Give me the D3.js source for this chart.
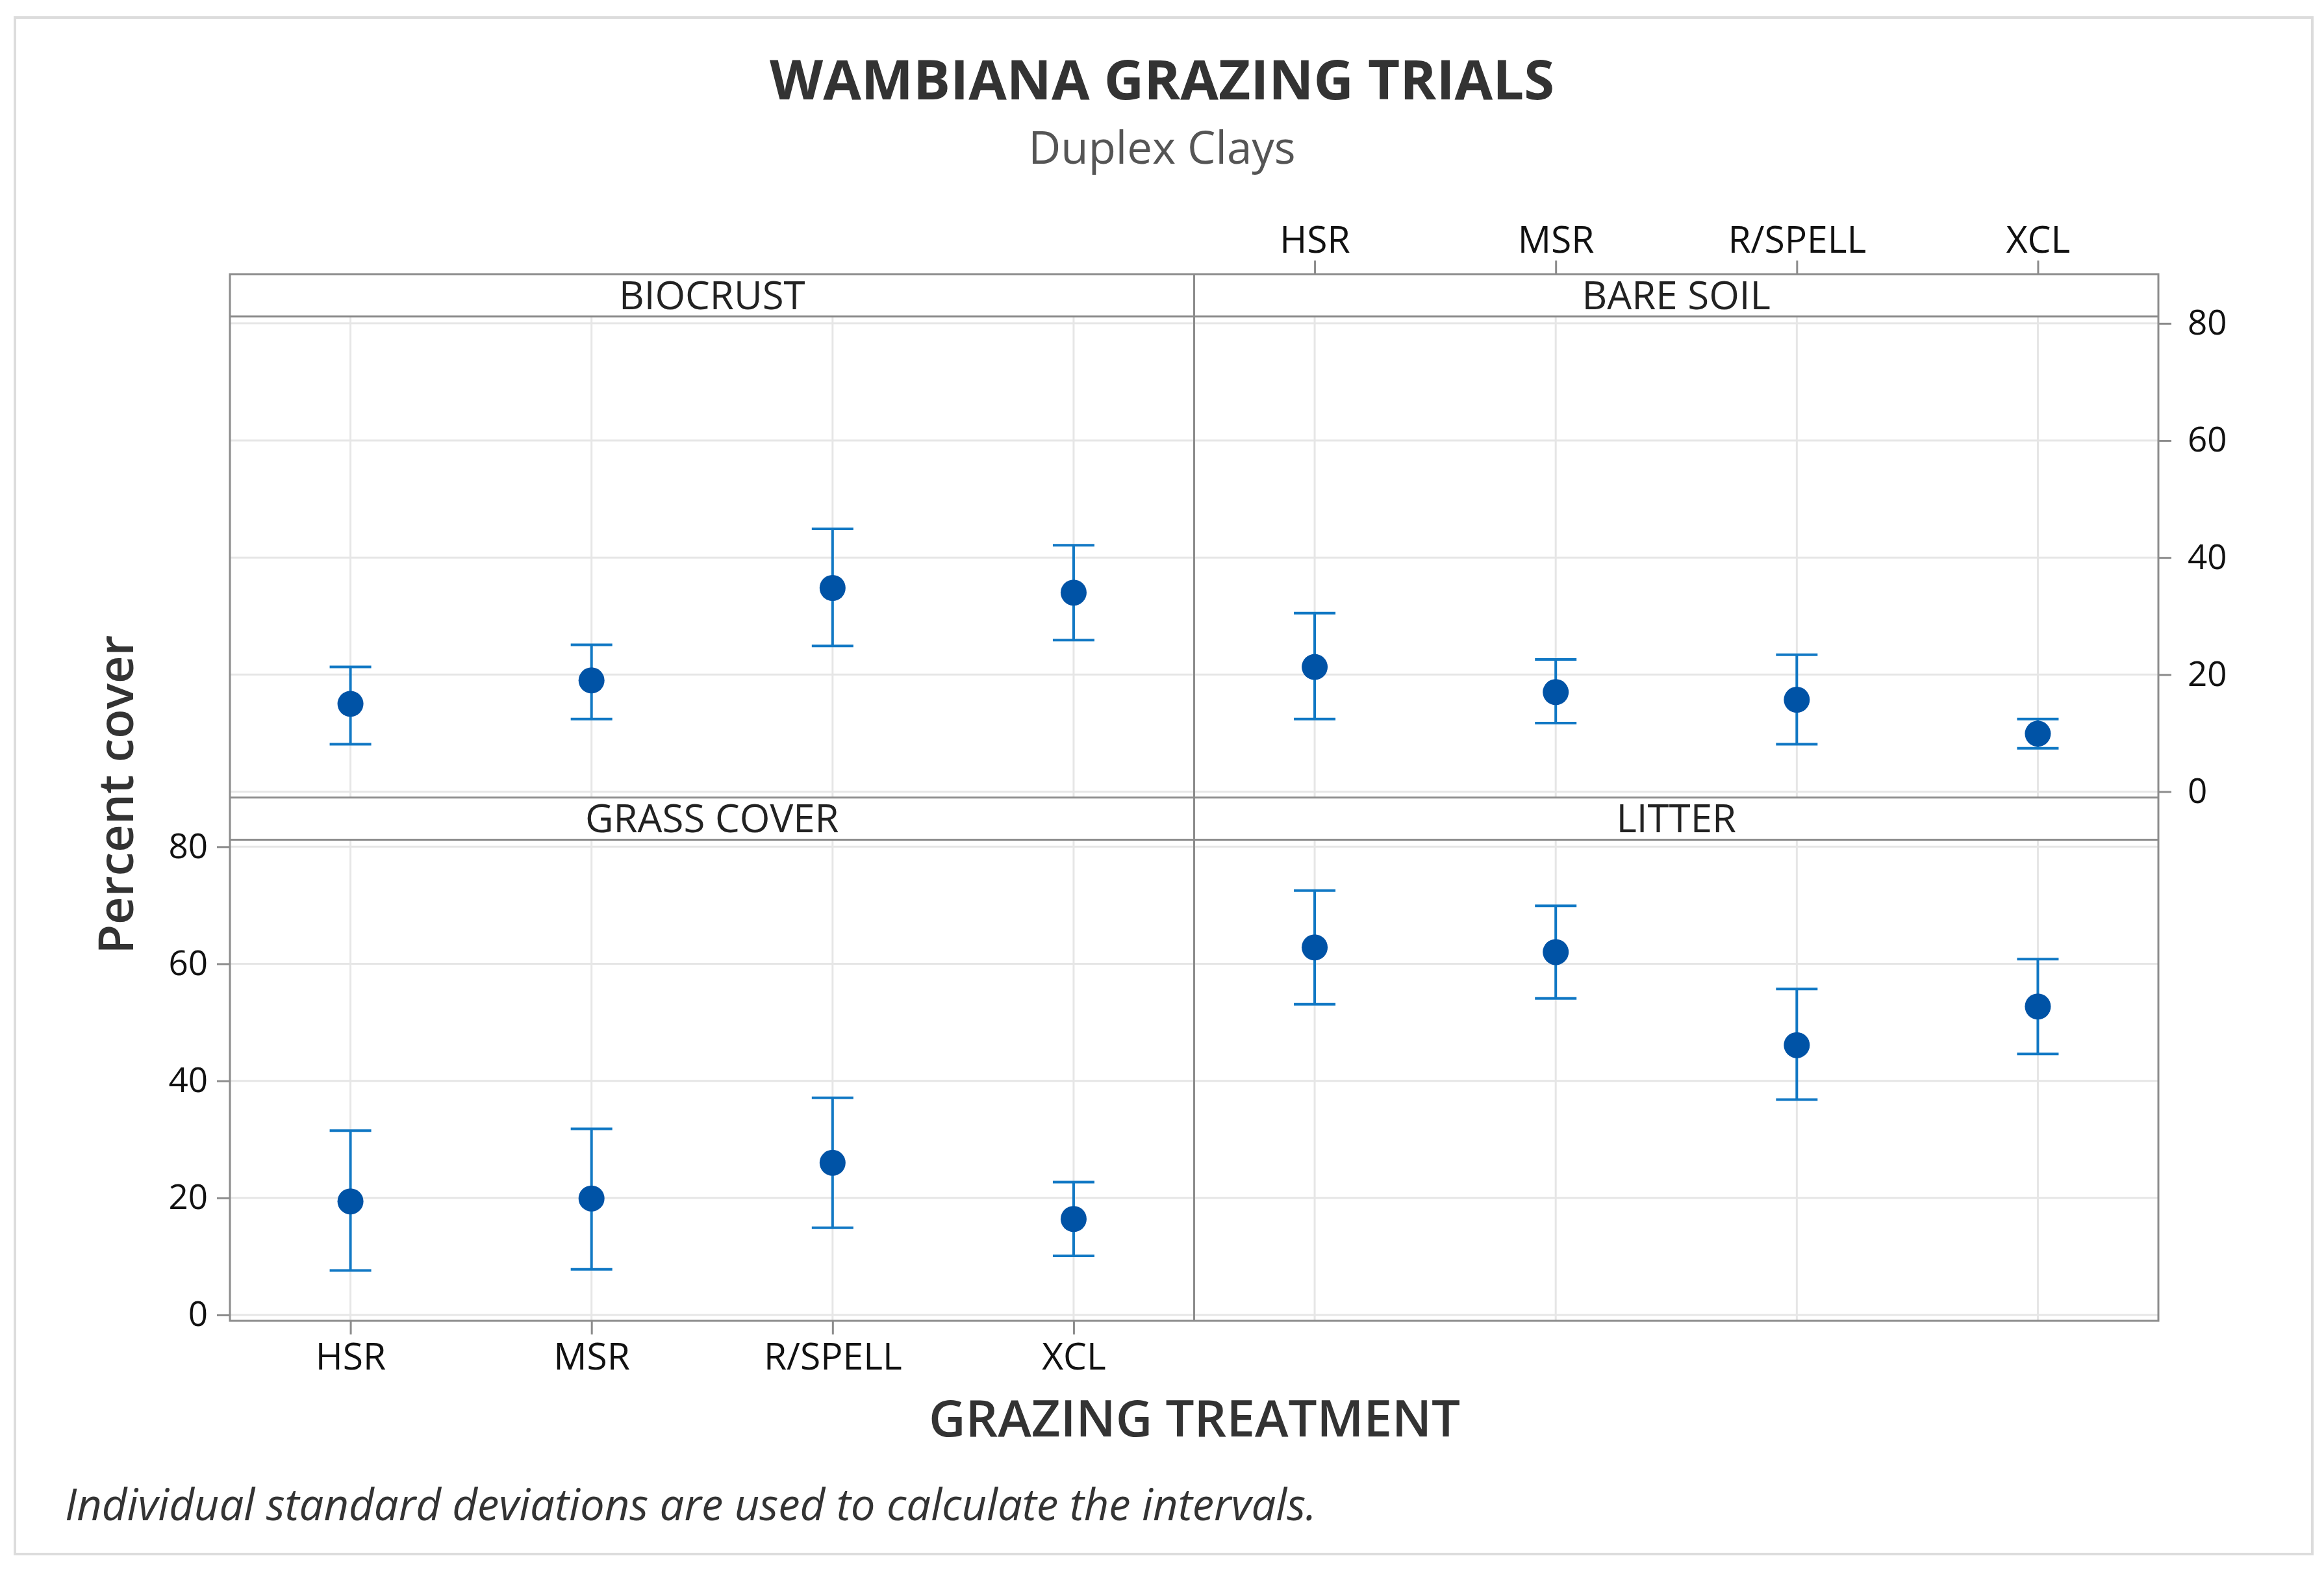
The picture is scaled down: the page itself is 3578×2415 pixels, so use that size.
<!doctype html>
<html>
  <head>
    <script src="https://cdnjs.cloudflare.com/ajax/libs/d3/7.8.5/d3.min.js"></script>
    <style>
      body { margin: 0; background: #fff; }
      text { font-family: "Open Sans", "Noto Sans", sans-serif; }
      .tick text { font-size: 53px; fill: #111; }
      .xaxis .tick text { font-size: 57px; }
      .tick line { stroke: #8c8c8c; stroke-width: 3px; }
      .strip { font-size: 60px; fill: #222; text-anchor: middle; }
      .grid { stroke: #e6e6e6; stroke-width: 3px; }
      .frame { fill: none; stroke: #8c8c8c; stroke-width: 3px; }
      .err { stroke: #1178c4; stroke-width: 4px; fill: none; }
      .dot { fill: #0053a6; }
    </style>
  </head>
  <body>
    <svg id="chart" width="3578" height="2415"></svg>
    <script>
      // treatments and panels
      const categories = ["HSR", "MSR", "R/SPELL", "XCL"];
      const panelNames = ["BIOCRUST", "BARE SOIL", "GRASS COVER", "LITTER"];
      const yTicks = [0, 20, 40, 60, 80];

      // means and interval ends
      const biocrustMean = [15.0, 19.0, 34.8, 34.0];
      const biocrustLo   = [8.1, 12.4, 24.9, 25.9];
      const biocrustHi   = [21.3, 25.1, 44.9, 42.1];

      const bareMean = [21.3, 17.0, 15.7, 9.9];
      const bareLo   = [12.4, 11.7, 8.1, 7.4];
      const bareHi   = [30.5, 22.6, 23.4, 12.4];

      const grassMean = [19.4, 19.9, 26.0, 16.4];
      const grassLo   = [7.6, 7.8, 14.9, 10.1];
      const grassHi   = [31.5, 31.8, 37.1, 22.7];

      const litterMean = [62.8, 62.0, 46.1, 52.7];
      const litterLo   = [53.1, 54.1, 36.8, 44.6];
      const litterHi   = [72.5, 69.9, 55.7, 60.8];

      const panels = [
        { name: panelNames[0], mean: biocrustMean, lo: biocrustLo, hi: biocrustHi, col: 0, row: 0 },
        { name: panelNames[1], mean: bareMean, lo: bareLo, hi: bareHi, col: 1, row: 0 },
        { name: panelNames[2], mean: grassMean, lo: grassLo, hi: grassHi, col: 0, row: 1 },
        { name: panelNames[3], mean: litterMean, lo: litterLo, hi: litterHi, col: 1, row: 1 }
      ];

      const svg = d3.select("#chart");

      // outer light border
      svg.append("rect")
        .attr("x", 23).attr("y", 27).attr("width", 3537).attr("height", 2365)
        .attr("fill", "#fff").attr("stroke", "#dcdcdc").attr("stroke-width", 4);

      const fLeft = 354, fRight = 3323, fTop = 422;
      const mid = (fLeft + fRight) / 2;
      const stripH = 65, dataH = 740.5, rowH = stripH + dataH;
      const colX = [fLeft, mid];
      const panelW = mid - fLeft;

      const rowY = r => fTop + r * rowH;
      const yScales = [0, 1].map(r =>
        d3.scaleLinear().domain([-1.0, 81.2]).range([rowY(r) + rowH, rowY(r) + stripH]));
      const xScales = [0, 1].map(c =>
        d3.scalePoint().domain(categories).range([colX[c], colX[c] + panelW]).padding(0.5));

      // grid
      panels.forEach(p => {
        const x = xScales[p.col], y = yScales[p.row];
        const g = svg.append("g");
        g.selectAll("line.h").data(yTicks).enter().append("line")
          .attr("class", "grid")
          .attr("x1", colX[p.col]).attr("x2", colX[p.col] + panelW)
          .attr("y1", d => y(d)).attr("y2", d => y(d));
        g.selectAll("line.v").data(categories).enter().append("line")
          .attr("class", "grid")
          .attr("x1", d => x(d)).attr("x2", d => x(d))
          .attr("y1", rowY(p.row) + stripH).attr("y2", rowY(p.row) + rowH);
      });

      // frame and strips
      svg.append("rect").attr("class", "frame")
        .attr("x", fLeft).attr("y", fTop).attr("width", fRight - fLeft).attr("height", 2 * rowH);
      [0, 1].forEach(r => {
        svg.append("line").attr("class", "frame")
          .attr("x1", fLeft).attr("x2", fRight)
          .attr("y1", rowY(r) + stripH).attr("y2", rowY(r) + stripH);
      });
      svg.append("line").attr("class", "frame")
        .attr("x1", fLeft).attr("x2", fRight).attr("y1", rowY(1)).attr("y2", rowY(1));
      svg.append("line").attr("class", "frame")
        .attr("x1", mid).attr("x2", mid).attr("y1", fTop).attr("y2", fTop + 2 * rowH);

      panels.forEach(p => {
        svg.append("text").attr("class", "strip")
          .attr("x", colX[p.col] + panelW / 2)
          .attr("y", rowY(p.row) + stripH / 2 + 21)
          .text(p.name);
      });

      // axes
      const styleAxis = g => g.call(s => s.select(".domain").remove());
      svg.append("g").attr("transform", `translate(${fRight},0)`)
        .call(d3.axisRight(yScales[0]).tickValues(yTicks).tickSize(20).tickPadding(25))
        .call(styleAxis);
      svg.append("g").attr("transform", `translate(${fLeft},0)`)
        .call(d3.axisLeft(yScales[1]).tickValues(yTicks).tickSize(20).tickPadding(14))
        .call(styleAxis);
      svg.append("g").attr("class", "xaxis").attr("transform", `translate(0,${fTop})`)
        .call(d3.axisTop(xScales[1]).tickSize(21).tickPadding(12))
        .call(styleAxis);
      svg.append("g").attr("class", "xaxis").attr("transform", `translate(0,${fTop + 2 * rowH})`)
        .call(d3.axisBottom(xScales[0]).tickSize(21).tickPadding(14))
        .call(styleAxis);
      svg.selectAll(".tick text").attr("font-family", null);

      // intervals and means
      panels.forEach(p => {
        const x = xScales[p.col], y = yScales[p.row];
        const rows = categories.map((c, i) => ({ c, m: p.mean[i], lo: p.lo[i], hi: p.hi[i] }));
        const g = svg.append("g");
        g.selectAll("line.stem").data(rows).enter().append("line").attr("class", "err")
          .attr("x1", d => x(d.c)).attr("x2", d => x(d.c))
          .attr("y1", d => y(d.lo)).attr("y2", d => y(d.hi));
        ["lo", "hi"].forEach(k => {
          g.selectAll("line.cap" + k).data(rows).enter().append("line").attr("class", "err")
            .attr("x1", d => x(d.c) - 32).attr("x2", d => x(d.c) + 32)
            .attr("y1", d => y(d[k])).attr("y2", d => y(d[k]));
        });
        g.selectAll("circle").data(rows).enter().append("circle").attr("class", "dot")
          .attr("cx", d => x(d.c)).attr("cy", d => y(d.m)).attr("r", 20);
      });

      // titles
      svg.append("text").attr("x", 1789).attr("y", 153)
        .attr("text-anchor", "middle").attr("font-size", 85).attr("font-weight", 700)
        .attr("fill", "#333").text("WAMBIANA GRAZING TRIALS");
      svg.append("text").attr("x", 1789).attr("y", 252)
        .attr("text-anchor", "middle").attr("font-size", 69)
        .attr("fill", "#555").text("Duplex Clays");
      svg.append("text").attr("x", 1839).attr("y", 2211)
        .attr("text-anchor", "middle").attr("font-size", 78).attr("font-weight", 600)
        .attr("fill", "#333").text("GRAZING TREATMENT");
      svg.append("text")
        .attr("transform", "translate(205,1223) rotate(-90)")
        .attr("text-anchor", "middle").attr("font-size", 74).attr("font-weight", 600)
        .attr("fill", "#333").text("Percent cover");
      svg.append("text").attr("x", 100).attr("y", 2340)
        .attr("font-size", 67).attr("font-style", "italic")
        .attr("fill", "#333").text("Individual standard deviations are used to calculate the intervals.");
    </script>
  </body>
</html>
